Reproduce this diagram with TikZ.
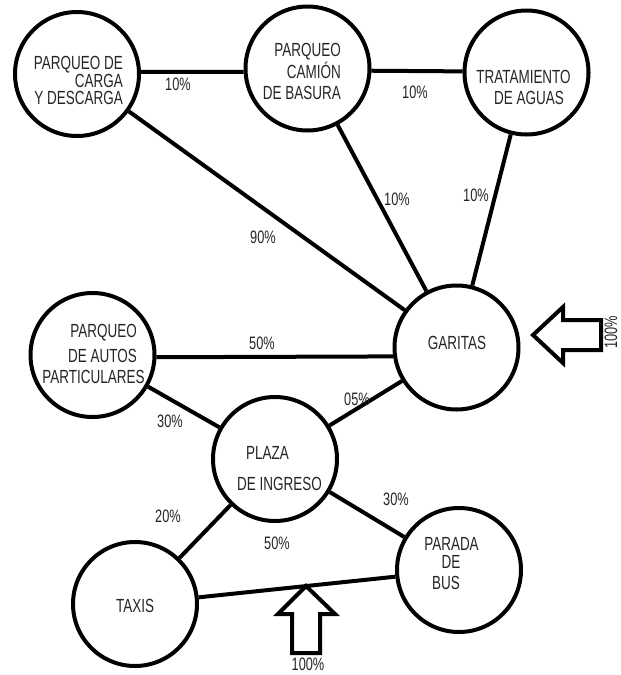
\documentclass[tikz,border=0pt]{standalone}
\usepackage{fontspec}
\setmainfont{Liberation Sans}[FakeStretch=0.71]
\begin{document}
\begin{tikzpicture}[x=1pt,y=-1pt,
  place/.style={circle, draw, line width=4pt, minimum size=124pt, inner sep=0pt, fill=white},
  lbl/.style={font=\fontsize{18}{18}\selectfont, inner sep=0pt, text=black!85},
  txt/.style={font=\fontsize{19}{17.5}\selectfont, inner sep=0pt, text=black!85},
  link/.style={line width=4pt},
  bigarrow/.style={line width=4pt, line join=miter, fill=white}]
\useasboundingbox[fill=white] (0,0) rectangle (621,675);

% circles
\node[place] (c1) at (77,74) {};
\node[place] (c2) at (307.5,68.5) {};
\node[place] (c3) at (526.5,72.5) {};
\node[place] (autos) at (92.5,355) {};
\node[place] (g) at (456.5,347.5) {};
\node[place] (plaza) at (275,459) {};
\node[place] (taxis) at (135,604) {};
\node[place] (bus) at (459,570) {};

% connectors
\draw[link] (c1.2) -- (c2.183);
\draw[link] (c2.-2) -- (c3.179);
\draw[link] (c1) -- (g);
\draw[link] (c2) -- (g);
\draw[link] (c3) -- (g);
\draw[link] (autos.-2) -- (g.188.5);
\draw[link] (plaza) -- (g);
\draw[link] (autos) -- (plaza);
\draw[link] (plaza) -- (taxis);
\draw[link] (plaza) -- (bus);
\draw[link] (taxis) -- (bus);

% texts in circles
\node[txt, align=right, anchor=east] (t1) at (123,80.5) {PARQUEO DE\\CARGA\\Y DESCARGA};
\node[txt, align=right, anchor=east, font=\fontsize{19}{21.5}\selectfont] (t2) at (341,71.5) {PARQUEO\\CAMIÓN\\DE BASURA};
\node[txt] (t3a) at (523.5,77) {TRATAMIENTO};
\node[txt] (t3b) at (529,98) {DE AGUAS};
\node[txt, anchor=east] (ta1) at (137,333) {PARQUEO};
\node[txt, anchor=east] (ta2) at (137,356) {DE AUTOS};
\node[txt] (ta3) at (93.5,376.5) {PARTICULARES};
\node[txt] (tg) at (457,343) {GARITAS};
\node[txt] (tp1) at (267.5,453) {PLAZA};
\node[txt] (tp2) at (279.5,484) {DE INGRESO};
\node[txt] (tt) at (135,606) {TAXIS};
\node[txt] (tb1) at (451.5,544) {PARADA};
\node[txt] (tb2) at (451,562) {DE};
\node[txt] (tb3) at (446,583) {BUS};

% percentages
\node[lbl] (p1) at (178,84) {10\%};
\node[lbl] (p2) at (415,92) {10\%};
\node[lbl] (p3) at (397,199) {10\%};
\node[lbl] (p4) at (476,195) {10\%};
\node[lbl] (p5) at (263,237) {90\%};
\node[lbl] (p6) at (262,343) {50\%};
\node[lbl] (p7) at (357,399) {05\%};
\node[lbl] (p8) at (170,421) {30\%};
\node[lbl] (p9) at (168,516) {20\%};
\node[lbl] (p10) at (396,499) {30\%};
\node[lbl] (p11) at (277,543) {50\%};
\node[lbl] (p12) at (308,664) {100\%};
\node[lbl, rotate=90] (p13) at (611,332) {100\%};

% entry arrows
\draw[bigarrow] (533,335) -- (563,307) -- (563,320) -- (601,320) -- (601,350) -- (563,350) -- (563,363) -- cycle;
\draw[bigarrow] (306,586) -- (335,614) -- (320,614) -- (320,653) -- (292,653) -- (292,614) -- (278,614) -- cycle;
\end{tikzpicture}
\end{document}
